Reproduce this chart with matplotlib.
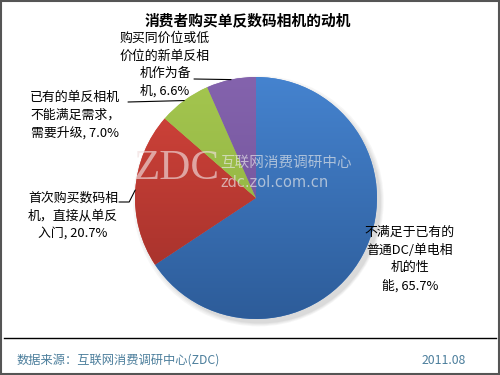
import numpy as np
import matplotlib.pyplot as plt
from matplotlib.colors import LinearSegmentedColormap
from matplotlib.patches import Rectangle, Circle
from matplotlib.lines import Line2D

plt.rcParams['font.family'] = ['Noto Sans CJK SC', 'DejaVu Sans']

# data
labels = ['不满足于已有的\n普通DC/单电相\n机的性\n能, 65.7%',
          '首次购买数码相\n机，直接从单反\n入门, 20.7%',
          '已有的单反相机\n不能满足需求，\n需要升级, 7.0%',
          '购买同价位或低\n价位的新单反相\n机作为备\n机, 6.6%']
values = [65.7, 20.7, 7.0, 6.6]
top_colors = ['#4583cf', '#d4443b', '#a4c64f', '#8463ad']
bottom_colors = ['#2d5c99', '#9e2f29', '#8aab3d', '#6b4e93']

title = '消费者购买单反数码相机的动机'
source = '数据来源：互联网消费调研中心(ZDC)'
date = '2011.08'

W, H = 500, 375
fig = plt.figure(figsize=(5, 3.75), dpi=100)


def fx(x):
    return x / W


def fy(y):
    return 1 - y / H


# pie axes, center (256,198), radius 121 px
cx, cy, r = 256, 198, 121
pad = 1.08
ax = fig.add_axes([fx(cx - r * pad), fy(cy + r * pad), 2 * r * pad / W, 2 * r * pad / H])
ax.axis('off')

# soft shadow
for i, a in enumerate([0.05, 0.05, 0.06, 0.08]):
    ax.add_patch(Circle((0.02 + i * 0.004, -0.025 - i * 0.004), 1.0 + 0.012 * (3 - i),
                        color='#606060', alpha=a, lw=0, zorder=0))

wedges, _ = ax.pie(values, startangle=90, counterclock=False, radius=1,
                   colors=top_colors, wedgeprops=dict(linewidth=0))

grad = np.linspace(0, 1, 256).reshape(-1, 1)
for w, c0, c1 in zip(wedges, top_colors, bottom_colors):
    cmap = LinearSegmentedColormap.from_list('g', [c0, c1])
    im = ax.imshow(grad, cmap=cmap, extent=[-1, 1, -1, 1], aspect='auto', zorder=2)
    im.set_clip_path(w)
ax.set_xlim(-pad, pad)
ax.set_ylim(-pad, pad)

# watermark
fig.text(fx(134), fy(169), 'ZDC', family='Liberation Serif', fontsize=31,
         color='#f0dede', alpha=0.65, va='center', ha='left', zorder=5)
fig.text(fx(220), fy(163), '互联网消费调研中心', fontsize=10.5, color='#eaeaea',
         alpha=0.65, va='center', ha='left', zorder=5)
fig.text(fx(220), fy(182), 'zdc.zol.com.cn', family='DejaVu Sans', fontsize=10.5,
         color='#eaeaea', alpha=0.65, va='center', ha='left', zorder=5)

# labels
fs = 9.3
label_pos = [(410, 259, 'center'), (28, 216, 'left'), (30, 115, 'left'), (165, 65, 'center')]
for lab, (x, y, ha) in zip(labels, label_pos):
    fig.text(fx(x), fy(y), lab, fontsize=fs, ha=ha, va='center', multialignment='center',
             linespacing=1.45)


def edge_point(i):
    start = 90 - sum(values[:i]) / 100 * 360
    mid = np.deg2rad(start - values[i] / 100 * 360 / 2)
    return np.cos(mid), np.sin(mid)


# leader lines: text end (figure px) -> wedge edge
leaders = [(1, (119, 202), 'angle,angleA=0,angleB=63,rad=0'),
           (2, (128, 102), 'arc3'),
           (3, (194, 79), 'arc3')]
for i, (tx, ty), cs in leaders:
    ax.annotate('', xy=edge_point(i), xycoords='data',
                xytext=(fx(tx), fy(ty)), textcoords='figure fraction',
                arrowprops=dict(arrowstyle='-', color='black', lw=0.8,
                                connectionstyle=cs, shrinkA=0, shrinkB=0))

# title
fig.text(fx(248), fy(20), title, fontsize=10.6, fontweight='bold', ha='center', va='center')

# footer
fig.add_artist(Line2D([fx(4), fx(496)], [fy(338), fy(338)], color='black', lw=1))
fig.text(fx(17), fy(360), source, fontsize=8.8, color='#4c7e9c', ha='left', va='center')
fig.text(fx(466), fy(360), date, fontsize=8.8, color='#4c7e9c', ha='right', va='center')

# outer frame
fig.add_artist(Rectangle((0.002, 0.003), 0.996, 0.994, transform=fig.transFigure,
                         fill=False, edgecolor='#555555', lw=1.5))

fig.savefig('out.png', dpi=100)
